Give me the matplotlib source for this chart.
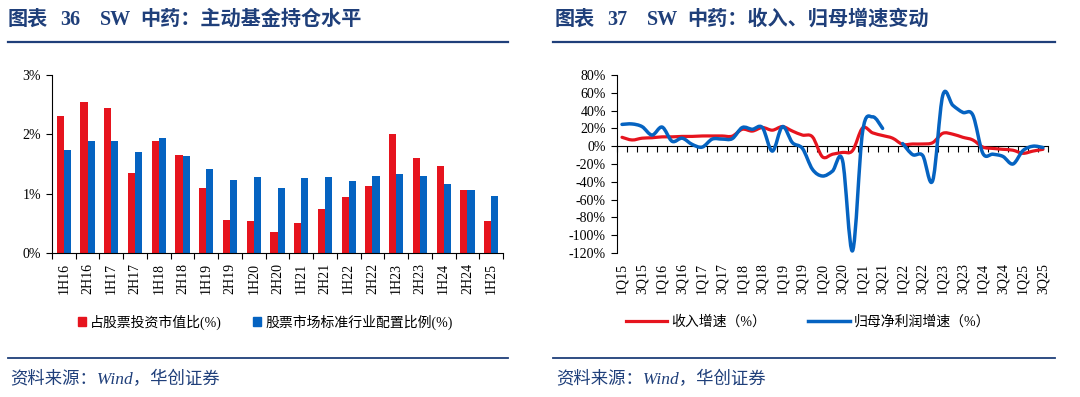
import numpy as np
import matplotlib
matplotlib.use('Agg')
import matplotlib.pyplot as plt
from matplotlib.path import Path
from matplotlib.patches import PathPatch, Patch
from matplotlib.lines import Line2D
import matplotlib.ticker as mticker

# ---------------- data ----------------
periods = ['1H16', '2H16', '1H17', '2H17', '1H18', '2H18', '1H19', '2H19', '1H20', '2H20',
           '1H21', '2H21', '1H22', '2H22', '1H23', '2H23', '1H24', '2H24', '1H25']
fund_share = [2.31, 2.55, 2.44, 1.35, 1.89, 1.65, 1.09, 0.55, 0.54, 0.36,
              0.50, 0.75, 0.94, 1.13, 2.01, 1.60, 1.46, 1.07, 0.54]
market_weight = [1.74, 1.88, 1.89, 1.70, 1.93, 1.64, 1.42, 1.23, 1.28, 1.10,
                 1.26, 1.28, 1.22, 1.29, 1.33, 1.29, 1.16, 1.07, 0.96]

quarters = ['1Q15', '2Q15', '3Q15', '4Q15', '1Q16', '2Q16', '3Q16', '4Q16',
            '1Q17', '2Q17', '3Q17', '4Q17', '1Q18', '2Q18', '3Q18', '4Q18',
            '1Q19', '2Q19', '3Q19', '4Q19', '1Q20', '2Q20', '3Q20', '4Q20',
            '1Q21', '2Q21', '3Q21', '4Q21', '1Q22', '2Q22', '3Q22', '4Q22',
            '1Q23', '2Q23', '3Q23', '4Q23', '1Q24', '2Q24', '3Q24', '4Q24',
            '1Q25', '2Q25', '3Q25']
revenue_growth = [10, 7, 9, 9.5, 10.5, 10.5, 11, 11, 11.5, 11.5, 11.5, 11.3,
                  19, 17, 21, 18, 22, 17, 12.5, 10.5, -12, -9, -7, -5,
                  20.5, 15, 12, 9, 2, 2.5, 2.5, 4, 14.5, 13.5, 10, 7,
                  -1, -2.5, -3.5, -4.5, -8, -5.5, -3.5]
profit_growth = [24.5, 25, 22, 12.5, 21.5, 5.5, 9, 2, -1, 8, 8, 8.5,
                 21, 19, 21, -5.5, 22, 4, -2.5, -26, -33.5, -28, -16, -117.5,
                 16, 33, 20, None, 3, -9.5, -10.5, -38.5, 57, 46, 38, 35,
                 -8, -9, -11.5, -20, -5, 0, -1.5]

RED = '#E6141E'
BLUE = '#0563C1'
NAVY = '#1F3F7A'

CJK = ['Liberation Serif', 'Noto Sans CJK SC', 'DejaVu Sans']
plt.rcParams['font.family'] = CJK

fig = plt.figure(figsize=(10.8, 3.97), dpi=100)
W, H = 1080, 397


def fx(px):
    return px / W


def fy(py):
    return 1 - py / H


# ---------------- headers / footers ----------------
title_parts = [
    [(8, '图表'), (60, '36'), (100, 'SW'), (140, '中药：主动基金持仓水平')],
    [(555, '图表'), (607, '37'), (647, 'SW'), (687, '中药：收入、归母增速变动')],
]
for parts in title_parts:
    for px, s in parts:
        fig.text(fx(px), fy(20), s, fontsize=14.5, fontweight='bold', color=NAVY,
                 va='center', ha='left', family=CJK)
for x0, x1 in [(8, 508), (553, 1055)]:
    fig.add_artist(Line2D([fx(x0), fx(x1)], [fy(42), fy(42)], color=NAVY, lw=1.6))
    fig.add_artist(Line2D([fx(x0), fx(x1)], [fy(358), fy(358)], color=NAVY, lw=1.3))
for px in (10, 556):
    fig.text(fx(px), fy(380), '资料来源：Wind，华创证券', fontsize=12.5, style='italic',
             color=NAVY, va='center', ha='left', family=CJK)

# ---------------- left chart ----------------
ax1 = fig.add_axes([fx(52), fy(253), fx(503) - fx(52), fy(75) - fy(253)])
x = np.arange(len(periods))
bw = 0.3
ax1.bar(x - bw / 2, fund_share, width=bw, color=RED, label='占股票投资市值比(%)')
ax1.bar(x + bw / 2, market_weight, width=bw, color=BLUE, label='股票市场标准行业配置比例(%)')
ax1.set_xlim(-0.5, len(periods) - 0.5)
ax1.set_ylim(0, 3)
ax1.set_yticks([0, 1, 2, 3])
ax1.yaxis.set_major_formatter(mticker.FuncFormatter(lambda v, p: f'{v:.0f}%'))
ax1.set_xticks(x)
ax1.set_xticklabels(periods, rotation=90)
ax1.set_xticks(np.arange(len(periods) + 1) - 0.5, minor=True)
ax1.tick_params(axis='x', which='major', length=0, pad=7, labelsize=10)
ax1.tick_params(axis='x', which='minor', length=4, direction='out', width=0.8)
ax1.tick_params(axis='y', length=4, direction='out', width=0.8, labelsize=10, pad=4)
for s in ['top', 'right']:
    ax1.spines[s].set_visible(False)
for s in ['left', 'bottom']:
    ax1.spines[s].set_linewidth(0.8)

h1 = [Patch(color=RED), Patch(color=BLUE)]
fig.legend(h1, ['占股票投资市值比(%)', '股票市场标准行业配置比例(%)'], loc='center',
           bbox_to_anchor=(fx(265), fy(322)), ncol=2, frameon=False,
           handlelength=0.6, handleheight=0.6, handletextpad=0.3, columnspacing=2.2,
           prop={'family': CJK, 'size': 10})

# ---------------- right chart ----------------
ax2 = fig.add_axes([fx(617), fy(253), fx(1048) - fx(617), fy(75) - fy(253)])


def smooth_segments(xs, ys):
    """Split at gaps and build cubic Bezier paths through the points (Catmull-Rom)."""
    segs, cur = [], []
    for a, b in zip(xs, ys):
        if b is None:
            if cur:
                segs.append(cur)
            cur = []
        else:
            cur.append((a, b))
    if cur:
        segs.append(cur)
    verts, codes = [], []
    for seg in segs:
        P = np.array(seg, dtype=float)
        n = len(P)
        verts.append(P[0]); codes.append(Path.MOVETO)
        for i in range(n - 1):
            p0 = P[i - 1] if i > 0 else P[i]
            p1, p2 = P[i], P[i + 1]
            p3 = P[i + 2] if i + 2 < n else P[i + 1]
            c1 = p1 + (p2 - p0) / 6.0
            c2 = p2 - (p3 - p1) / 6.0
            verts += [c1, c2, p2]
            codes += [Path.CURVE4] * 3
    return Path(verts, codes)


xq = np.arange(len(quarters))
ax2.add_patch(PathPatch(smooth_segments(xq, revenue_growth), fill=False,
                        edgecolor=RED, lw=2.3, capstyle='round', joinstyle='round', zorder=3))
ax2.add_patch(PathPatch(smooth_segments(xq, profit_growth), fill=False,
                        edgecolor=BLUE, lw=2.5, capstyle='round', joinstyle='round', zorder=4))
ax2.set_xlim(-0.5, len(quarters) - 0.5)
ax2.set_ylim(-120, 80)
ax2.set_yticks(np.arange(-120, 81, 20))
ax2.yaxis.set_major_formatter(mticker.FuncFormatter(lambda v, p: f'{v:.0f}%'))
ax2.tick_params(axis='y', length=4, direction='out', width=0.8, labelsize=10, pad=4)
ax2.spines['bottom'].set_position(('data', 0))
ax2.spines['bottom'].set_linewidth(0.8)
ax2.spines['left'].set_linewidth(0.8)
for s in ['top', 'right']:
    ax2.spines[s].set_visible(False)
ax2.set_xticks(np.arange(len(quarters) + 1) - 0.5)
ax2.set_xticklabels([])
ax2.tick_params(axis='x', length=4, direction='out', width=0.8)
sec = ax2.secondary_xaxis(0)
sec.set_xticks(xq[::2])
sec.set_xticklabels(quarters[::2], rotation=90)
sec.tick_params(axis='x', length=0, pad=7, labelsize=10)
sec.spines['bottom'].set_visible(False)

h2 = [Line2D([], [], color=RED, lw=2.3), Line2D([], [], color=BLUE, lw=2.5)]
fig.legend(h2, ['收入增速（%）', '归母净利润增速（%）'], loc='center',
           bbox_to_anchor=(fx(808), fy(322)), ncol=2, frameon=False,
           handlelength=3.0, handletextpad=0.3, columnspacing=3.0,
           prop={'family': CJK, 'size': 10})

fig.savefig('out.png', dpi=100)
